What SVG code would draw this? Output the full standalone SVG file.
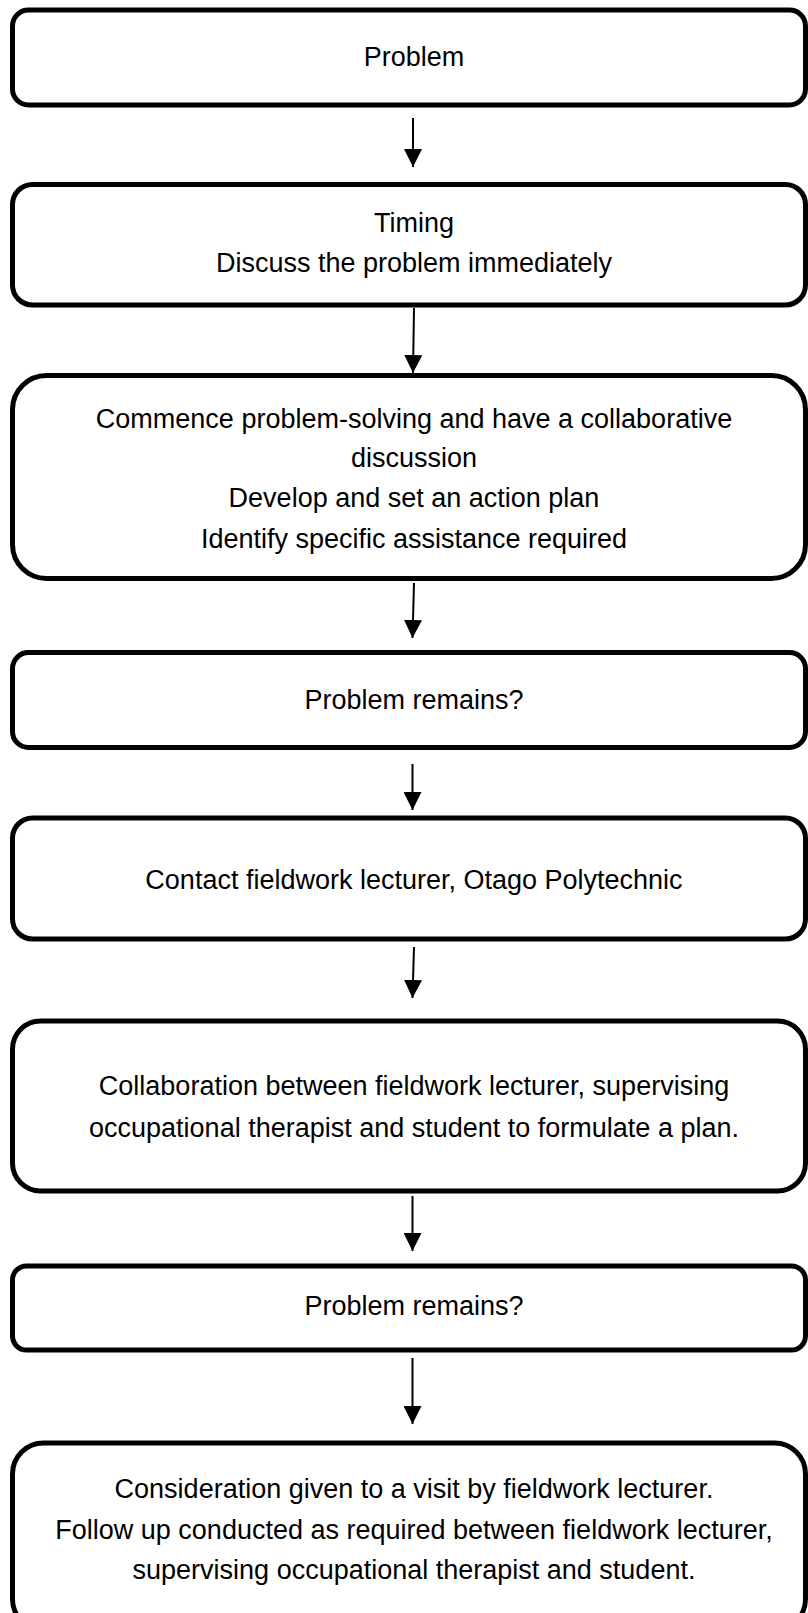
<svg xmlns="http://www.w3.org/2000/svg" width="808" height="1613" viewBox="0 0 808 1613">
<style>
.box{fill:#fff;stroke:#000;stroke-width:5}
.t{font-family:"Liberation Sans",Arial,sans-serif;font-size:27px;fill:#000;text-anchor:middle}
.arr{stroke:#000;stroke-width:2;fill:none}
</style>
<defs>
<marker id="ah" markerUnits="userSpaceOnUse" markerWidth="18" markerHeight="18" viewBox="0 0 16 16" refX="16" refY="8" orient="auto">
<path d="M0,0 L16,8 L0,16 Z" fill="#000"/>
</marker>
</defs>
<rect width="808" height="1613" fill="#fff"/>
<g id="n1"><rect class="box" x="12.5" y="10" width="793" height="95" rx="16"/><text class="t" x="414" y="66">Problem</text></g>
<g id="n2"><rect class="box" x="12.5" y="184.5" width="793" height="120.5" rx="20"/><text class="t" x="414" y="232">Timing</text><text class="t" x="414" y="272">Discuss the problem immediately</text></g>
<g id="n3"><rect class="box" x="12.5" y="375.5" width="793" height="203" rx="34"/><text class="t" x="414" y="428">Commence problem-solving and have a collaborative</text><text class="t" x="414" y="467">discussion</text><text class="t" x="414" y="507">Develop and set an action plan</text><text class="t" x="414" y="548">Identify specific assistance required</text></g>
<g id="n4"><rect class="box" x="12.5" y="652.5" width="793" height="95" rx="16"/><text class="t" x="414" y="709">Problem remains?</text></g>
<g id="n5"><rect class="box" x="12.5" y="818" width="793" height="121" rx="20"/><text class="t" x="414" y="889">Contact fieldwork lecturer, Otago Polytechnic</text></g>
<g id="n6"><rect class="box" x="12.5" y="1021" width="793" height="170" rx="28"/><text class="t" x="414" y="1095">Collaboration between fieldwork lecturer, supervising</text><text class="t" x="414" y="1137">occupational therapist and student to formulate a plan.</text></g>
<g id="n7"><rect class="box" x="12.5" y="1266" width="793" height="84" rx="14"/><text class="t" x="414" y="1315">Problem remains?</text></g>
<g id="n8"><rect class="box" x="12.5" y="1443" width="793" height="187" rx="31"/><text class="t" x="414" y="1498">Consideration given to a visit by fieldwork lecturer.</text><text class="t" x="414" y="1539">Follow up conducted as required between fieldwork lecturer,</text><text class="t" x="414" y="1579">supervising occupational therapist and student.</text></g>
<g id="connectors">
<line class="arr" x1="413" y1="118" x2="413" y2="167" marker-end="url(#ah)"/>
<line class="arr" x1="414" y1="308" x2="413" y2="373" marker-end="url(#ah)"/>
<line class="arr" x1="414" y1="583" x2="412.5" y2="638" marker-end="url(#ah)"/>
<line class="arr" x1="412.5" y1="764" x2="412.5" y2="810" marker-end="url(#ah)"/>
<line class="arr" x1="414" y1="947" x2="412.5" y2="998" marker-end="url(#ah)"/>
<line class="arr" x1="412.5" y1="1196" x2="412.5" y2="1251" marker-end="url(#ah)"/>
<line class="arr" x1="412.5" y1="1358" x2="412.5" y2="1424" marker-end="url(#ah)"/>
</g>
</svg>
